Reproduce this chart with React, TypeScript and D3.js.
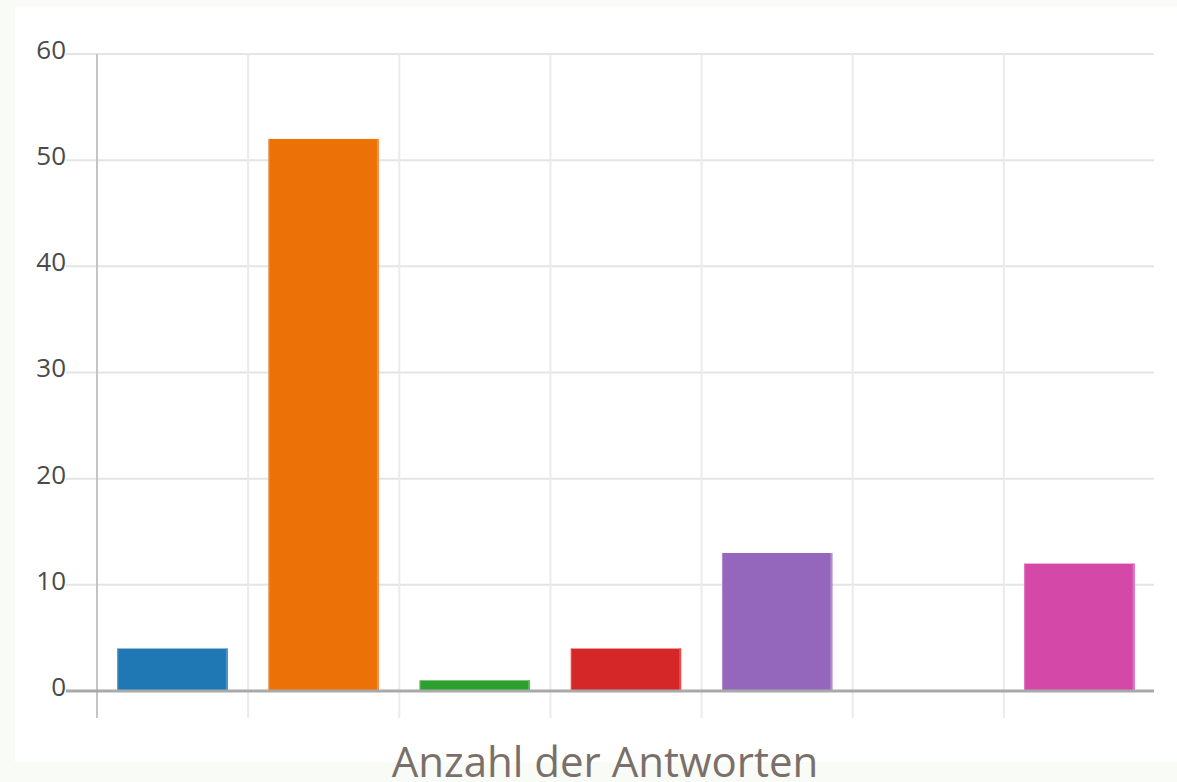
import React from "react";
import * as d3 from "d3";

const categories = ["A", "B", "C", "D", "E", "F", "G"];
const values = [4, 52, 1, 4, 13, 0, 12];
const fills = ["#1f77b4", "#ec7207", "#2ca02c", "#d62728", "#9467bd", "#8c564b", "#d448a7"];
const edges = ["#4b93c6", "#f1924a", "#55b855", "#e05457", "#ad8ccf", "#a47a70", "#e070c2"];
const yTicks = [0, 10, 20, 30, 40, 50, 60];
const axisTitle = "Anzahl der Antworten";

const W = 1177;
const H = 782;

export default function App() {
  const x = d3.scaleBand<string>().domain(categories).range([97, 1155]).paddingInner(0.27).paddingOuter(0.135);
  const y = d3.scaleLinear().domain([0, 60]).range([691, 54]);
  const step = x.step();
  const font = "'Open Sans', sans-serif";

  return (
    <svg width={W} height={H} style={{ position: "absolute", left: 0, top: 0 }}>
      <rect x={0} y={0} width={W} height={H} fill="#f9fbf7" />
      <rect x={15} y={7} width={W - 15} height={755} fill="#ffffff" />
      {/* horizontal gridlines */}
      {yTicks.filter((t) => t !== 0).map((t) => (
        <line key={"h" + t} x1={66} x2={1154} y1={y(t)} y2={y(t)} stroke="#e4e4e4" strokeWidth={2} />
      ))}
      {/* vertical gridlines */}
      {categories.map((c, i) => {
        const gx = 97 + i * step;
        return (
          <line key={"v" + c} x1={gx} x2={gx} y1={54} y2={718}
            stroke={i === 0 ? "#c4c4c4" : "#ebebeb"} strokeWidth={2} />
        );
      })}
      {/* bars */}
      {categories.map((c, i) => {
        const bx = x(c) as number;
        const bw = x.bandwidth();
        const top = y(values[i]);
        const h = y(0) - top;
        if (h <= 0) return null;
        return (
          <g key={"b" + c}>
            <rect x={bx} y={top} width={bw} height={h} fill={fills[i]} />
            <rect x={bx} y={top} width={1} height={h} fill={edges[i]} />
            <rect x={bx + bw - 2} y={top} width={2} height={h} fill={edges[i]} />
          </g>
        );
      })}
      {/* zero line */}
      <line x1={66} x2={1154} y1={y(0)} y2={y(0)} stroke="#a9a9a9" strokeWidth={3} />
      {/* y labels */}
      {yTicks.map((t) => (
        <text key={"t" + t} x={66} y={y(t) - 2} textAnchor="end" dominantBaseline="middle"
          fontFamily={font} fontSize={26} fill="#4a4a4a">
          {t}
        </text>
      ))}
      <text x={605} y={777} textAnchor="middle" fontFamily={font} fontSize={42} fill="#7a6f69">
        {axisTitle}
      </text>
    </svg>
  );
}
